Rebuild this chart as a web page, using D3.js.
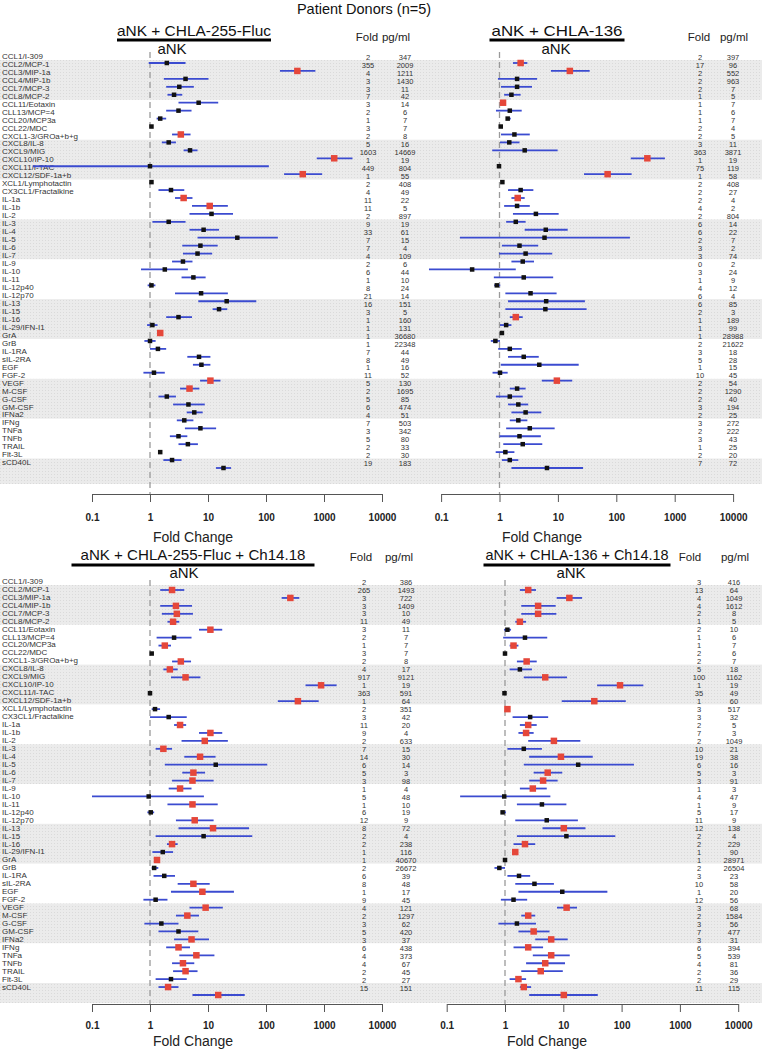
<!DOCTYPE html>
<html lang="en">
<head>
<meta charset="UTF-8">
<title>Patient Donors (n=5)</title>
<style>
  body { margin:0; background:#fff; }
  text { font-family: 'Liberation Sans', Arial, sans-serif; }
  .lab { font-size:8px; fill:#333; }
  .num { font-size:7.5px; fill:#333; text-anchor:middle; }
  .hdr { font-size:11.5px; fill:#222; text-anchor:middle; }
  .ttl { font-size:15px; fill:#111; text-anchor:middle; }
  .tick text { font-size:10px; font-weight:bold; fill:#222; }
  .xlab { font-size:14px; fill:#222; text-anchor:middle; }
</style>
<script src="https://d3js.org/d3.v7.min.js"></script>
</head>
<body>
<script>

var cytokines = ["CCL1/I-309","CCL2/MCP-1","CCL3/MIP-1a","CCL4/MIP-1b","CCL7/MCP-3","CCL8/MCP-2",
  "CCL11/Eotaxin","CLL13/MCP=4","CCL20/MCP3a","CCL22/MDC","CXCL1-3/GROa+b+g",
  "CXCL8/IL-8","CXCL9/MIG","CXCL10/IP-10","CXCL11/I-TAC","CXCL12/SDF-1a+b",
  "XCL1/Lymphotactin","CX3CL1/Fractalkine","IL-1a","IL-1b","IL-2",
  "IL-3","IL-4","IL-5","IL-6","IL-7",
  "IL-9","IL-10","IL-11","IL-12p40","IL-12p70",
  "IL-13","IL-15","IL-16","IL-29/IFN-I1","GrA",
  "GrB","IL-1RA","sIL-2RA","EGF","FGF-2",
  "VEGF","M-CSF","G-CSF","GM-CSF","IFNa2",
  "IFNg","TNFa","TNFb","TRAIL","Flt-3L","sCD40L"];

var tickVals = [0.1, 1, 10, 100, 1000, 10000];
var tickLabels = ["0.1", "1", "10", "100", "1000", "10000"];

// aNK + CHLA-255-Fluc
var estA = [1.95,347,4.1,3.2,2.6,6.9,3.1,1.5,1.06,3.4, 2.1,4.9,1500,1.0,430,1.06,2.3,3.8,10.7,11.5,
  2.1,8.4,32,7.4,6.6,3.7,1.8,5.6,1.06,7.6, 21,15.5,3.1,1.1,1.5,1.0,1.37,7.0,7.7,1.17,
  11,4.8,1.95,4.6,5.8,3.9,7.4,3.1,4.5,1.5, 2.4,18.5];
var loA = [0.95,174,1.73,1.9,2.0,3.1,1.9,1.3,null,2.4, 1.6,3.8,750,0.0095,205,null,1.4,2.7,5.3,4.8,
  1.1,4.8,6.6,3.6,3.7,2.4,0.7,3.5,0.91,2.7, 6.8,12,1.9,0.89,null,0.8,1.0,4.4,5.5,0.77,
  7.3,3.3,1.4,2.5,4.3,2.9,4.0,2.2,3.1,null, 1.7,13.7];
var hiA = [4.1,710,10.2,5.7,3.6,15,5.2,1.9,null,5.0, 2.8,6.6,3100,112,930,null,3.9,5.4,22,27,
  4.1,15.5,160,14.7,11.8,5.4,4.5,9.1,1.24,22, 68,21.5,5.3,1.35,null,1.25,1.9,11,11,1.8,
  16.4,7.1,2.8,8.8,8.1,5.6,13.8,4.4,6.7,null, 3.5,25];
var sigA = [0,1,0,0,0,0,0,0,0,1, 0,0,1,0,1,0,0,1,1,0, 0,0,0,0,0,0,0,0,0,0,
  0,0,0,0,1,0,0,0,0,0, 1,1,0,0,0,0,0,0,0,0, 0,0];
var foldA = [2,355,4,3,3,7,3,2,1,3, 2,5,1603,1,449,1,2,4,11,11, 2,9,33,7,7,4,2,6,1,8,
  21,16,3,1,1,1,1,7,8,1, 11,5,2,5,6,4,7,3,5,2, 2,19];
var pgA = [347,2009,1211,1430,11,42,14,6,7,7, 8,16,14669,19,804,55,408,49,22,5,
  897,19,61,15,4,109,6,44,10,24, 14,151,5,160,131,36680,22348,44,49,16,
  52,130,1695,85,474,51,503,342,80,33, 30,183];

// aNK + CHLA-136
var estB = [2.3,16,2.0,2.0,1.6,1.15,1.5,1.38,1.05,1.8, 1.47,2.7,340,0.98,71,1.12,2.3,2.05,2.0,4.2,
  1.9,6.2,5.9,2.2,2.8,2.5,0.34,2.6,0.9,3.4, 6.3,6.1,1.9,1.3,1.1,0.85,1.5,2.6,4.8,1.02,
  9.6,2.0,1.5,2.1,2.8,2.1,3.3,2.2,2.5,1.26, 1.5,6.5];
var loB = [1.7,7.6,0.94,1.06,1.2,null,0.87,1.3,null,1.06, 1.02,0.75,177,null,28,null,1.4,1.6,1.2,1.7,
  1.3,2.7,0.21,1.1,0.98,1.6,0.062,0.8,0.81,1.26, 1.4,1.26,1.5,1.02,null,0.71,0.95,1.4,1.05,0.76,
  5.3,1.5,0.87,1.4,1.6,1.5,1.3,1.0,1.16,0.86, 1.1,1.6];
var hiB = [3.0,35,4.4,3.6,2.3,null,2.4,1.56,null,3.3, 2.2,9.9,680,null,183,null,3.8,2.7,3.3,10.3,
  2.8,14.7,171,4.6,8.0,3.9,1.9,8.3,1.03,9.5, 29,31,2.5,1.6,null,1.02,2.4,4.7,22.7,1.38,
  17.6,2.8,2.5,3.1,5.2,3.0,8.8,5.1,5.4,1.8, 2.1,27];
var sigB = [1,1,0,0,0,1,0,0,0,0, 0,0,1,0,1,0,0,1,0,0, 0,0,0,0,0,0,0,0,0,0,
  0,0,1,0,0,0,0,0,0,0, 1,0,0,0,0,0,0,0,0,0, 0,0];
var foldB = [2,17,2,2,2,1,1,1,1,2, 2,3,363,1,75,1,2,2,2,4, 2,6,6,2,3,3,0,3,1,4,
  6,6,2,1,1,1,2,3,5,1, 10,2,2,2,3,2,3,2,3,1, 2,7];
var pgB = [397,96,552,963,7,5,7,6,7,4, 5,11,3871,19,119,58,408,27,4,2,
  804,14,22,7,2,74,2,24,9,12, 4,85,3,189,99,28988,21622,18,28,15,
  45,54,1290,40,194,25,272,222,43,25, 20,72];

// aNK + CHLA-255-Fluc + Ch14.18
var estC = [2.4,263,2.8,2.9,2.5,11,2.6,1.8,1.07,3.4, 2.2,4.1,890,1.0,355,1.22,2.1,3.3,11,8.8,
  1.7,7.3,13.6,5.6,5.4,3.3,0.95,5.4,1.03,5.9, 12.2,8.4,2.4,1.66,1.32,1.18,1.76,5.6,8.0,1.25,
  9.1,4.4,1.57,3.1,5.2,3.1,6.3,3.7,4.1,2.3, 2.05,15];
var loC = [1.5,186,1.5,1.6,2.0,7.0,1.3,1.4,null,2.4, 1.7,2.3,480,null,160,1.07,1.0,2.6,7.0,3.5,
  1.25,3.9,1.8,3.6,2.4,2.1,0.1,2.0,0.9,2.8, 3.1,1.25,1.96,1.1,null,1.07,1.15,3.0,2.3,0.77,
  4.8,2.8,0.8,1.4,2.6,1.9,3.2,2.4,2.5,1.25, 1.4,5.4];
var hiC = [3.9,375,5.3,5.5,3.2,17.6,5.2,2.3,null,5.1, 3.0,7.4,1650,null,810,1.49,4.3,4.2,17.6,22,
  2.4,13.5,105,8.9,12.5,5.2,8.5,14.7,1.18,12.5, 51,58,3.0,2.5,null,1.39,2.7,10.7,28,2.0,
  18,7.0,3.1,6.8,10.4,4.9,12.9,5.8,6.6,4.3, 3.1,43];
var sigC = [1,1,1,1,1,1,0,1,0,1, 1,1,1,0,1,0,0,1,1,1, 1,1,0,1,1,1,0,1,0,1,
  1,0,1,0,1,0,0,1,1,0, 1,1,0,0,1,1,1,1,1,0, 1,1];
var foldC = [2,265,3,3,3,11,3,2,1,3, 2,4,917,1,363,1,2,3,11,9, 2,7,14,6,5,3,1,5,1,6,
  12,8,2,2,1,1,2,6,8,1, 9,4,2,3,5,3,6,4,4,2, 2,15];
var pgC = [386,1493,722,1409,10,49,11,7,7,7, 8,17,9121,19,591,64,351,42,20,4,
  633,15,30,14,3,98,4,48,10,19, 9,72,4,238,116,40670,26672,39,48,17,
  45,121,1297,62,420,37,438,373,67,45, 27,151];

// aNK + CHLA-136 + Ch14.18
var estD = [2.5,12.7,3.7,3.7,1.8,1.1,2.2,1.4,1.0,2.35, 1.8,4.9,94,0.98,34,1.1,2.7,2.5,2.3,6.9,
  2.1,9.1,18,5.4,4.5,3.0,0.97,4.3,0.91,5.2, 10.2,11.3,2.2,1.5,1.0,0.8,1.74,3.2,9.6,1.4,
  11.4,2.5,1.6,3.1,6.2,2.5,6.2,4.9,4.1,1.7, 2.1,10.2];
var loD = [1.8,7.7,1.9,1.9,1.5,0.96,0.93,1.2,null,1.6, 1.2,2.1,38,null,9.4,null,1.35,1.8,1.7,2.5,
  1.1,2.6,2.1,3.1,2.6,1.8,0.17,1.6,0.85,1.5, 4.4,1.6,1.4,null,null,0.66,1.1,1.5,1.7,0.85,
  7.8,1.9,0.77,1.7,3.3,1.4,3.0,2.3,1.9,1.2, 1.8,2.6];
var hiD = [3.4,21,7.4,7.6,2.3,1.27,5.3,1.7,null,3.5, 2.9,11.6,236,null,118,null,5.5,3.5,3.1,19.6,
  4.3,32,163,9.6,8.0,5.2,6.0,11.3,1.04,17.8, 24,78,3.3,null,null,1.0,2.7,6.9,57,2.4,
  17.2,3.3,3.4,5.8,11.9,4.5,12.9,10.7,9.8,2.3, 2.8,39];
var sigD = [1,1,1,1,1,0,0,1,0,1, 0,1,1,0,1,1,0,1,1,1, 0,1,0,1,1,1,0,0,0,0,
  1,0,1,1,0,0,0,0,0,0, 1,1,0,1,1,1,1,1,1,1, 1,1];
var foldD = [3,13,4,4,2,1,2,1,1,2, 2,5,100,1,35,1,3,3,2,7, 2,10,19,6,5,3,1,4,1,5,
  11,12,2,2,1,1,2,3,10,1, 12,3,2,3,7,3,6,5,4,2, 2,11];
var pgD = [416,64,1049,1612,8,5,10,6,7,6, 7,18,1162,19,49,60,517,32,5,3,
  1049,21,38,16,3,91,3,47,9,17, 9,138,4,229,90,28971,26504,23,58,20,
  56,68,1584,56,477,31,394,539,81,36, 29,115];

var W = 762, H = 1050;
var svg = d3.select("body").append("svg").attr("width", W).attr("height", H);

var pat = svg.append("defs").append("pattern").attr("id", "dots")
  .attr("width", 3).attr("height", 3).attr("patternUnits", "userSpaceOnUse");
pat.append("rect").attr("width", 3).attr("height", 3).attr("fill", "#ebebeb");
pat.append("rect").attr("width", 1).attr("height", 1).attr("fill", "#dadada");

svg.append("text").attr("class", "ttl").attr("x", 364).attr("y", 14)
  .style("font-size", "14.5px").text("Patient Donors (n=5)");

var blocks = [
  { labRange:[56,462.5], mkRange:[63,468], bandEnd:484, titleY:36, barY:40, ankY:54, hdrY:41,
    dashTop:52, axisY:494, pad:12, xlabY:542 },
  { labRange:[581,987], mkRange:[590,995], bandEnd:1003, titleY:560, barY:565, ankY:578, hdrY:561,
    dashTop:580, axisY:1004, pad:10, xlabY:1046 }
];

var panels = [
  { block:0, title:"aNK + CHLA-255-Fluc", tx:194, tw:154, barPad:0, ankX:172, range:[92,382],
    est:estA, lo:loA, hi:hiA, sig:sigA, fold:foldA, pg:pgA,
    hFold:367, hPg:396, nFold:368, nPg:405, xlabX:193 },
  { block:0, title:"aNK + CHLA-136", tx:557, tw:131, barPad:2, ankX:556, range:[441.1,733.1],
    est:estB, lo:loB, hi:hiB, sig:sigB, fold:foldB, pg:pgB,
    hFold:699, hPg:734, nFold:700, nPg:733, xlabX:542 },
  { block:1, title:"aNK + CHLA-255-Fluc + Ch14.18", tx:193, tw:225, barPad:9, ankX:184, range:[92,382],
    est:estC, lo:loC, hi:hiC, sig:sigC, fold:foldC, pg:pgC,
    hFold:361, hPg:399, nFold:364, nPg:406, xlabX:193 },
  { block:1, title:"aNK + CHLA-136 + Ch14.18", tx:577, tw:183, barPad:2, ankX:571, range:[446.7,738.2],
    est:estD, lo:loD, hi:hiD, sig:sigD, fold:foldD, pg:pgD,
    hFold:690, hPg:735, nFold:699, nPg:734, xlabX:547 }
];

// row scales, bands and labels
blocks.forEach(function(b) {
  b.y = d3.scalePoint().domain(cytokines).range(b.labRange);
  b.ym = d3.scalePoint().domain(cytokines).range(b.mkRange);
  var step = b.y.step();
  var starts = d3.range(1, cytokines.length, 10);
  svg.append("g").selectAll("rect").data(starts).enter().append("rect")
    .attr("x", 0).attr("width", W)
    .attr("y", function(s) { return b.y(cytokines[s]) - step / 2; })
    .attr("height", function(s) {
      var top = b.y(cytokines[s]) - step / 2;
      var last = Math.min(s + 4, cytokines.length - 1);
      var bot = (last === cytokines.length - 1) ? b.bandEnd : b.y(cytokines[last]) + step / 2;
      return bot - top;
    })
    .attr("fill", "url(#dots)");
  svg.append("g").selectAll("text").data(cytokines).enter().append("text")
    .attr("class", "lab").attr("x", 2)
    .attr("y", function(d) { return b.y(d); }).attr("dy", "0.35em")
    .text(function(d) { return d; });
});

panels.forEach(function(p) {
  var b = blocks[p.block];
  var x = d3.scaleLog().domain([0.1, 10000]).range(p.range);
  var rows = cytokines.map(function(name, i) {
    return { name:name, est:p.est[i], lo:p.lo[i], hi:p.hi[i], sig:p.sig[i], fold:p.fold[i], pg:p.pg[i] };
  });
  var g = svg.append("g");

  // reference line at fold change = 1
  g.append("line").attr("x1", x(1)).attr("x2", x(1))
    .attr("y1", b.dashTop).attr("y2", b.axisY)
    .attr("stroke", "#9a9a9a").attr("stroke-width", 1.3).attr("stroke-dasharray", "6,4");

  // confidence bars
  g.selectAll(".ci").data(rows.filter(function(d) { return d.lo != null; })).enter().append("line")
    .attr("x1", function(d) { return x(d.lo); }).attr("x2", function(d) { return x(d.hi); })
    .attr("y1", function(d) { return b.ym(d.name); }).attr("y2", function(d) { return b.ym(d.name); })
    .attr("stroke", "#3b4bd0").attr("stroke-width", 1.8);

  // point estimates
  g.selectAll(".pt").data(rows).enter().append("rect")
    .attr("width", function(d) { return d.sig ? 6.5 : 4.5; })
    .attr("height", function(d) { return d.sig ? 6.5 : 4.5; })
    .attr("x", function(d) { return x(d.est) - (d.sig ? 3.25 : 2.25); })
    .attr("y", function(d) { return b.ym(d.name) - (d.sig ? 3.25 : 2.25); })
    .attr("fill", function(d) { return d.sig ? "#e5473a" : "#111"; });

  // fold and pg/ml columns
  g.selectAll(".fd").data(rows).enter().append("text").attr("class", "num")
    .attr("x", p.nFold).attr("y", function(d) { return b.y(d.name) + 1; }).attr("dy", "0.35em")
    .text(function(d) { return d.fold; });
  g.selectAll(".pg").data(rows).enter().append("text").attr("class", "num")
    .attr("x", p.nPg).attr("y", function(d) { return b.y(d.name) + 1; }).attr("dy", "0.35em")
    .text(function(d) { return d.pg; });
  g.append("text").attr("class", "hdr").attr("x", p.hFold).attr("y", b.hdrY).text("Fold");
  g.append("text").attr("class", "hdr").attr("x", p.hPg).attr("y", b.hdrY).text("pg/ml");

  // ratio title
  g.append("text").attr("class", "ttl").attr("x", p.tx).attr("y", b.titleY)
    .attr("textLength", p.tw).attr("lengthAdjust", "spacingAndGlyphs").text(p.title);
  g.append("line").attr("x1", p.tx - p.tw / 2 - p.barPad).attr("x2", p.tx + p.tw / 2 + p.barPad)
    .attr("y1", b.barY).attr("y2", b.barY).attr("stroke", "#000").attr("stroke-width", 3);
  g.append("text").attr("class", "ttl").attr("x", p.ankX).attr("y", b.ankY).text("aNK");

  // axis
  var axis = d3.axisBottom(x).tickValues(tickVals)
    .tickFormat(function(d, i) { return tickLabels[i]; })
    .tickSize(8).tickSizeOuter(0).tickPadding(b.pad);
  var ag = g.append("g").attr("transform", "translate(0," + b.axisY + ")").call(axis);
  ag.selectAll("path, line").attr("stroke", "#555");
  g.append("text").attr("class", "xlab").attr("x", p.xlabX).attr("y", b.xlabY).text("Fold Change");
});

</script>
</body>
</html>
